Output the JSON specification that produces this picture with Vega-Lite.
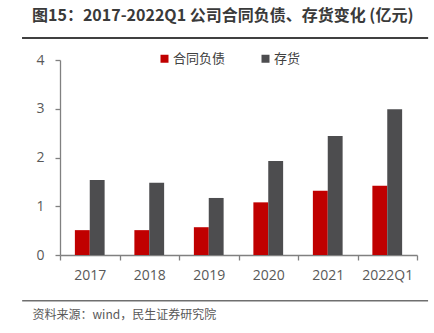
{
  "$schema": "https://vega.github.io/schema/vega-lite/v6.json",
  "width": 357,
  "height": 195,
  "autosize": {"type": "none"},
  "padding": {"left": 60, "top": 60, "right": 17, "bottom": 78},
  "background": "white",
  "config": {
    "view": {"stroke": null},
    "font": "Noto Sans CJK SC"
  },
  "title": {
    "text": "图15：2017-2022Q1 公司合同负债、存货变化 (亿元)",
    "anchor": "start",
    "frame": "group",
    "dx": -28,
    "offset": 13,
    "fontSize": 16,
    "fontWeight": "bold",
    "color": "#3a3a3a",
    "font": "Noto Sans CJK SC"
  },
  "datasets": {
    "bars": [
      {"year": "2017", "series": "合同负债", "value": 0.51},
      {"year": "2017", "series": "存货", "value": 1.54},
      {"year": "2018", "series": "合同负债", "value": 0.51},
      {"year": "2018", "series": "存货", "value": 1.48},
      {"year": "2019", "series": "合同负债", "value": 0.57},
      {"year": "2019", "series": "存货", "value": 1.17},
      {"year": "2020", "series": "合同负债", "value": 1.08},
      {"year": "2020", "series": "存货", "value": 1.93},
      {"year": "2021", "series": "合同负债", "value": 1.32},
      {"year": "2021", "series": "存货", "value": 2.44},
      {"year": "2022Q1", "series": "合同负债", "value": 1.42},
      {"year": "2022Q1", "series": "存货", "value": 2.99}
    ],
    "rules": [
      {"pos": "top", "y": 4.45, "x0": -0.106, "x1": 1.031},
      {"pos": "bottom", "y": -0.94, "x0": -0.106, "x1": 1.031}
    ],
    "band": [
      {"y0": 4.43, "y1": 4.47, "x0": -0.106, "x1": 1.031}
    ]
  },
  "layer": [
    {
      "data": {"name": "rules"},
      "mark": {"type": "rule", "clip": false},
      "encoding": {
        "x": {"field": "x0", "type": "quantitative", "scale": {"domain": [0, 1], "nice": false, "zero": false}, "axis": null},
        "x2": {"field": "x1"},
        "y": {"field": "y", "type": "quantitative", "scale": {"domain": [0, 4], "nice": false}, "axis": null},
        "stroke": {"field": "pos", "type": "nominal", "scale": {"domain": ["top", "bottom"], "range": ["#404040", "#6f6f6f"]}, "legend": null},
        "strokeWidth": {"field": "pos", "type": "nominal", "scale": {"domain": ["top", "bottom"], "range": [2, 1.5]}, "legend": null}
      }
    },
    {
      "data": {"name": "bars"},
      "mark": {"type": "bar"},
      "encoding": {
        "x": {
          "field": "year",
          "type": "nominal",
          "sort": null,
          "scale": {"paddingInner": 0, "paddingOuter": 0},
          "axis": {
            "title": "资料来源：wind，民生证券研究院",
            "titleAnchor": "start",
            "titleX": -28,
            "titleY": 63,
            "titleBaseline": "alphabetic",
            "titleFontSize": 12,
            "titleFontWeight": "normal",
            "titleColor": "#595959",
            "titleFont": "Noto Sans CJK SC",
            "labelAngle": 0,
            "labelFontSize": 14,
            "labelColor": "#595959",
            "labelFont": "Open Sans",
            "labelPadding": 8,
            "tickBand": "extent",
            "tickSize": 5,
            "tickColor": "#808080",
            "domainColor": "#808080",
            "domainWidth": 1.3,
            "tickWidth": 1.3
          }
        },
        "xOffset": {
          "field": "series",
          "type": "nominal",
          "sort": ["合同负债", "存货"],
          "scale": {"paddingInner": 0, "paddingOuter": 1.05}
        },
        "y": {
          "field": "value",
          "type": "quantitative",
          "scale": {"domain": [0, 4], "nice": false},
          "axis": {
            "orient": "left",
            "title": null,
            "values": [0, 1, 2, 3, 4],
            "grid": false,
            "labelFontSize": 14,
            "labelColor": "#595959",
            "labelFont": "Open Sans",
            "labelPadding": 11,
            "tickSize": 5,
            "tickColor": "#808080",
            "domainColor": "#808080",
            "domainWidth": 1.3,
            "tickWidth": 1.3
          }
        },
        "color": {
          "field": "series",
          "type": "nominal",
          "sort": ["合同负债", "存货"],
          "scale": {"domain": ["合同负债", "存货"], "range": ["#C00000", "#4D4D4F"]},
          "legend": {
            "title": null,
            "orient": "none",
            "direction": "horizontal",
            "legendX": 98,
            "legendY": -8,
            "symbolType": "square",
            "symbolSize": 64,
            "symbolStrokeWidth": 0,
            "labelFontSize": 13,
            "labelColor": "#404040",
            "labelFont": "Noto Sans CJK SC",
            "labelOffset": 2,
            "columnPadding": 33
          }
        }
      }
    },
    {
      "data": {"name": "band"},
      "mark": {"type": "rect", "clip": false, "color": "#404040"},
      "encoding": {
        "x": {"field": "x0", "type": "quantitative", "scale": {"domain": [0, 1], "nice": false, "zero": false}, "axis": null},
        "x2": {"field": "x1"},
        "y": {"field": "y0", "type": "quantitative", "scale": {"domain": [0, 4], "nice": false, "zero": false}, "axis": null},
        "y2": {"field": "y1"}
      }
    }
  ],
  "resolve": {"scale": {"x": "independent", "y": "independent", "color": "independent", "stroke": "independent"}}
}
